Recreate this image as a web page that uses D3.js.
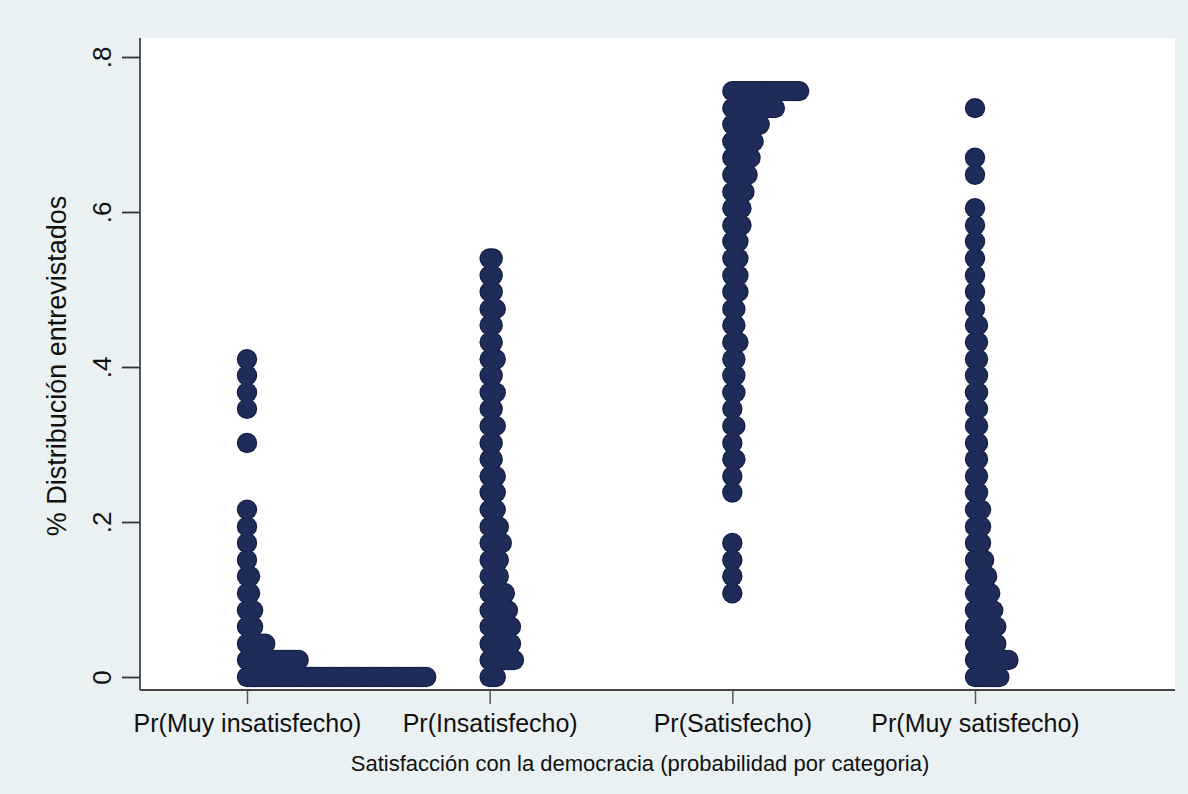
<!DOCTYPE html>
<html>
<head>
<meta charset="utf-8">
<script src="https://cdn.jsdelivr.net/npm/d3@7"></script>
<style>
  body { margin: 0; background: #eaf1f3; }
  svg { display: block; font-family: "Liberation Sans", Arial, sans-serif; }
</style>
</head>
<body>
<div id="chart"></div>
<script>
// categories on the x axis
var categories = ["Pr(Muy insatisfecho)", "Pr(Insatisfecho)", "Pr(Satisfecho)", "Pr(Muy satisfecho)"];

// y value of each dot row (bin), bottom to top
var binY = [0.000, 0.022, 0.043, 0.065, 0.086, 0.108, 0.130, 0.151, 0.173, 0.194,
            0.216, 0.238, 0.259, 0.281, 0.302, 0.324, 0.346, 0.367, 0.389, 0.410,
            0.432, 0.454, 0.475, 0.497, 0.518, 0.540, 0.562, 0.583, 0.605, 0.626,
            0.648, 0.670, 0.691, 0.713, 0.734, 0.756];

// number of dots in each row, one array per category
var muyInsatisfecho = [60, 18, 7, 3, 3, 2, 2, 1, 1, 1, 1, 0, 0, 0, 1, 0, 1, 1, 1, 1,
                       0, 0, 0, 0, 0, 0, 0, 0, 0, 0, 0, 0, 0, 0, 0, 0];
var insatisfecho    = [3, 9, 8, 8, 7, 6, 4, 4, 5, 4, 3, 3, 3, 2, 2, 3, 2, 3, 2, 3,
                       2, 2, 3, 2, 2, 2, 0, 0, 0, 0, 0, 0, 0, 0, 0, 0];
var satisfecho      = [0, 0, 0, 0, 0, 1, 1, 1, 1, 0, 0, 1, 1, 2, 1, 2, 1, 2, 2, 2,
                       3, 2, 2, 3, 3, 3, 3, 4, 4, 5, 6, 7, 8, 10, 15, 23];
var muySatisfecho   = [9, 12, 8, 8, 7, 6, 5, 4, 3, 3, 3, 2, 2, 2, 2, 2, 2, 2, 2, 2,
                       2, 2, 1, 1, 1, 1, 1, 1, 1, 0, 1, 1, 0, 0, 1, 0];
var counts = [muyInsatisfecho, insatisfecho, satisfecho, muySatisfecho];

var yTicks = [0, 0.2, 0.4, 0.6, 0.8];
var yTickLabels = ["0", ".2", ".4", ".6", ".8"];

var W = 1188, H = 794;
var plot = {left: 140, right: 1175, top: 38, bottom: 690};

var svg = d3.select("#chart").append("svg")
  .attr("width", W)
  .attr("height", H);

svg.append("rect")
  .attr("width", W).attr("height", H)
  .attr("fill", "#eaf1f3");

// white plot region
svg.append("rect")
  .attr("x", plot.left).attr("y", plot.top)
  .attr("width", plot.right - plot.left)
  .attr("height", plot.bottom - plot.top)
  .attr("fill", "#ffffff");

var x = d3.scaleLinear().domain([0, 3]).range([247, 975]);
var y = d3.scaleLinear().domain([0, 0.8]).range([677, 57]);
// horizontal offset of the n-th dot in a row
var xFreq = d3.scaleLinear().domain([0, 80]).range([0, 243]);

// flatten rows into single dots
var dots = [];
counts.forEach(function (arr, c) {
  arr.forEach(function (n, k) {
    for (var j = 0; j < n; j++) {
      dots.push({c: c, v: binY[k], j: j});
    }
  });
});

// outline layer then fill layer, so merged dots keep one outer edge
svg.append("g").selectAll("circle")
  .data(dots)
  .enter().append("circle")
  .attr("cx", d => x(d.c) + xFreq(d.j))
  .attr("cy", d => y(d.v))
  .attr("r", 10.2)
  .attr("fill", "#141d42");

svg.append("g").selectAll("circle")
  .data(dots)
  .enter().append("circle")
  .attr("cx", d => x(d.c) + xFreq(d.j))
  .attr("cy", d => y(d.v))
  .attr("r", 9.1)
  .attr("fill", "#1f2c5a");

// y axis
var yAxis = svg.append("g")
  .attr("transform", `translate(${plot.left},0)`)
  .call(d3.axisLeft(y).tickValues(yTicks).tickSize(18).tickSizeOuter(0)
    .tickFormat((d, i) => yTickLabels[i]));
yAxis.select(".domain").remove();
yAxis.selectAll(".tick line").attr("stroke", "#333").attr("stroke-width", 1.8);
yAxis.selectAll(".tick text")
  .attr("x", null).attr("dy", null)
  .attr("transform", "translate(-38,0) rotate(-90)")
  .attr("text-anchor", "middle")
  .attr("dominant-baseline", "central")
  .style("font-size", "26px")
  .attr("fill", "#111");

// x axis
var xAxis = svg.append("g")
  .attr("transform", `translate(0,${plot.bottom})`)
  .call(d3.axisBottom(x).tickValues([0, 1, 2, 3]).tickSize(14).tickSizeOuter(0)
    .tickFormat(d => categories[d]));
xAxis.select(".domain").remove();
xAxis.selectAll(".tick line").attr("stroke", "#555").attr("stroke-width", 1.5);
xAxis.selectAll(".tick text")
  .attr("y", 24).attr("dy", "0.71em")
  .style("font-size", "25px")
  .attr("fill", "#111");

// axis lines
svg.append("line")
  .attr("x1", plot.left).attr("x2", plot.left)
  .attr("y1", plot.top).attr("y2", plot.bottom)
  .attr("stroke", "#444").attr("stroke-width", 1.8);
svg.append("line")
  .attr("x1", plot.left).attr("x2", plot.right)
  .attr("y1", plot.bottom).attr("y2", plot.bottom)
  .attr("stroke", "#444").attr("stroke-width", 1.8);

// titles
svg.append("text")
  .attr("transform", "translate(57,366) rotate(-90)")
  .attr("text-anchor", "middle")
  .attr("dominant-baseline", "central")
  .style("font-size", "27px")
  .attr("fill", "#111")
  .text("% Distribución entrevistados");

svg.append("text")
  .attr("x", 640)
  .attr("y", 771)
  .attr("text-anchor", "middle")
  .style("font-size", "22px")
  .attr("fill", "#111")
  .text("Satisfacción con la democracia (probabilidad por categoria)");
</script>
</body>
</html>
